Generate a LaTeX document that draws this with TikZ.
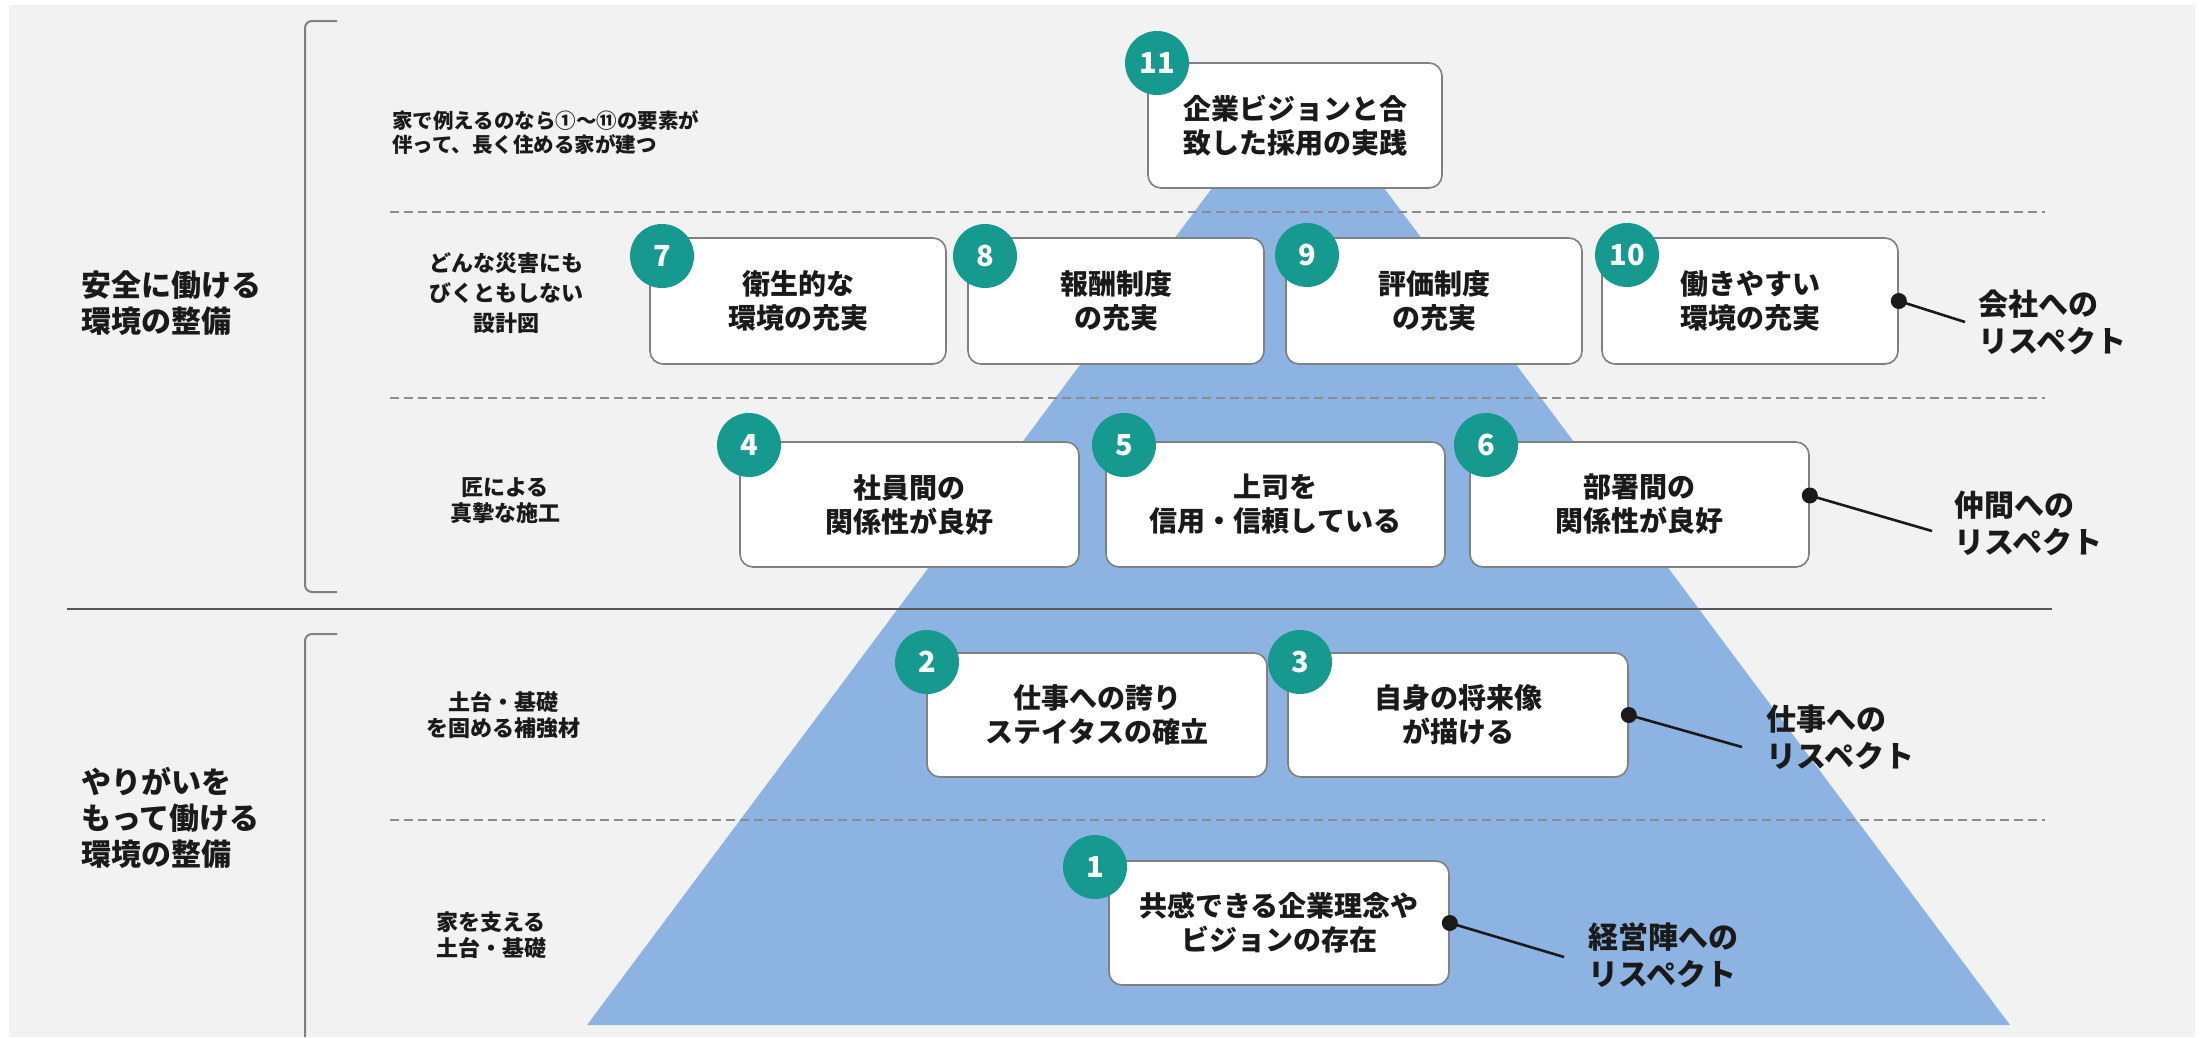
\documentclass[tikz,border=0pt]{standalone}
\usepackage{fontspec}
\setmainfont{Noto Sans CJK JP}
\definecolor{bgc}{HTML}{F2F2F2}
\definecolor{pyrc}{HTML}{8DB3E2}
\definecolor{numc}{HTML}{169A8F}
\definecolor{boxc}{HTML}{808080}
\definecolor{dashc}{HTML}{8C8C8C}
\definecolor{inkc}{HTML}{1A1A1A}
\tikzset{
  card/.style={draw=boxc, line width=1.6pt, fill=white, rounded corners=13pt,
    align=center, inner sep=0pt, text=inkc,
    font=\fontsize{28}{34}\selectfont\bfseries},
  wcard/.style={card, minimum width=296pt, minimum height=126pt},
  mcard/.style={card, minimum width=339pt, minimum height=125pt},
  numdot/.style={circle, fill=numc, text=white, minimum size=64pt, inner sep=0pt,
    font=\fontsize{29}{29}\selectfont\bfseries},
  sublabel/.style={align=center, inner sep=0pt, text=inkc,
    font=\fontsize{22}{26}\selectfont\bfseries},
  biglabel/.style={align=left, inner sep=0pt, anchor=west, text=inkc,
    font=\fontsize{30}{36}\selectfont\bfseries},
  resplabel/.style={align=left, inner sep=0pt, anchor=west, text=inkc,
    font=\fontsize{30}{37}\selectfont\bfseries},
  dline/.style={draw=dashc, line width=1.5pt, dash pattern=on 9pt off 5pt},
  brk/.style={draw=boxc, line width=2pt, rounded corners=7pt},
  pin/.style={draw=inkc, line width=2.6pt},
  pindot/.style={fill=inkc}
}
\begin{document}
\begin{tikzpicture}[x=1pt,y=-1pt]
\useasboundingbox (0,0) rectangle (2201,1037);
\fill[white] (0,0) rectangle (2201,1037);
\fill[bgc] (9,5) rectangle (2195,1037);

% pyramid
\fill[pyrc] (1298,73) -- (2010,1025) -- (587,1025) -- cycle;

% brackets
\draw[brk] (337,21) -- (305,21) -- (305,592) -- (337,592);
\draw[brk] (337,634) -- (305,634) -- (305,1037);

% separators
\draw[dline] (390,212) -- (2045,212);
\draw[dline] (390,398) -- (2045,398);
\draw[dline] (390,820) -- (2045,820);
\draw[draw=black!65, line width=2pt] (67,609) -- (2052,609);

% left labels
\node[biglabel] (g1) at (81,303) {安全に働ける\\環境の整備};
\node[biglabel] (g2) at (81,818) {やりがいを\\もって働ける\\環境の整備};

% sub labels
\node[sublabel, align=left, anchor=west, font=\fontsize{20.5}{24}\selectfont\bfseries] (s1) at (392,133) {家で例えるのなら①～⑪の要素が\\伴って、長く住める家が建つ};
\node[sublabel, font=\fontsize{22}{30}\selectfont\bfseries] (s2) at (506,293) {どんな災害にも\\びくともしない\\設計図};
\node[sublabel] (s3) at (505,501) {匠による\\真摯な施工};
\node[sublabel] (s4) at (503,715) {土台・基礎\\を固める補強材};
\node[sublabel] (s5) at (491,935) {家を支える\\土台・基礎};

% boxes
\node[card, minimum width=294pt, minimum height=125pt] (b11) at (1295,125.5) {企業ビジョンと合\\致した採用の実践};
\node[wcard] (b7) at (798,301) {衛生的な\\環境の充実};
\node[wcard] (b8) at (1116,301) {報酬制度\\の充実};
\node[wcard] (b9) at (1434,301) {評価制度\\の充実};
\node[wcard] (b10) at (1750,301) {働きやすい\\環境の充実};
\node[mcard] (b4) at (909.5,504.5) {社員間の\\関係性が良好};
\node[mcard] (b5) at (1275.5,504.5) {上司を\\信用・信頼している};
\node[mcard] (b6) at (1639.5,504.5) {部署間の\\関係性が良好};
\node[mcard, minimum width=340pt, minimum height=124pt] (b2) at (1097,715) {仕事への誇り\\ステイタスの確立};
\node[mcard, minimum width=340pt, minimum height=124pt] (b3) at (1458,715) {自身の将来像\\が描ける};
\node[mcard, minimum width=340pt, minimum height=124pt] (b1) at (1279,923) {共感できる企業理念や\\ビジョンの存在};

% number badges
\node[numdot] (c11) at (1157,63) {11};
\node[numdot] (c7) at (662,256) {7};
\node[numdot] (c8) at (985,256) {8};
\node[numdot] (c9) at (1307,255) {9};
\node[numdot] (c10) at (1627,255) {10};
\node[numdot] (c4) at (749,445) {4};
\node[numdot] (c5) at (1124,445) {5};
\node[numdot] (c6) at (1486,445) {6};
\node[numdot] (c2) at (927,662) {2};
\node[numdot] (c3) at (1300,662) {3};
\node[numdot] (c1) at (1095,867) {1};

% respect labels
\node[resplabel] (r10) at (1978,322) {会社への\\リスペクト};
\node[resplabel] (r6) at (1954,523) {仲間への\\リスペクト};
\node[resplabel] (r3) at (1766,737) {仕事への\\リスペクト};
\node[resplabel] (r1) at (1588,955) {経営陣への\\リスペクト};

% pins
\coordinate (p10) at ([xshift=-13pt]r10.west);
\coordinate (p6) at ([xshift=-22pt,yshift=-8pt]r6.west);
\coordinate (p3) at ([xshift=-24pt,yshift=-10pt]r3.west);
\coordinate (p1) at ([xshift=-24pt,yshift=-2pt]r1.west);
\draw[pin] (b10.east) -- (p10);
\draw[pin] ([yshift=9pt]b6.east) -- (p6);
\draw[pin] (b3.east) -- (p3);
\draw[pin] (b1.east) -- (p1);
\fill[pindot] (b10.east) circle (8pt);
\fill[pindot] ([yshift=9pt]b6.east) circle (8pt);
\fill[pindot] (b3.east) circle (8pt);
\fill[pindot] (b1.east) circle (8pt);
\end{tikzpicture}
\end{document}
